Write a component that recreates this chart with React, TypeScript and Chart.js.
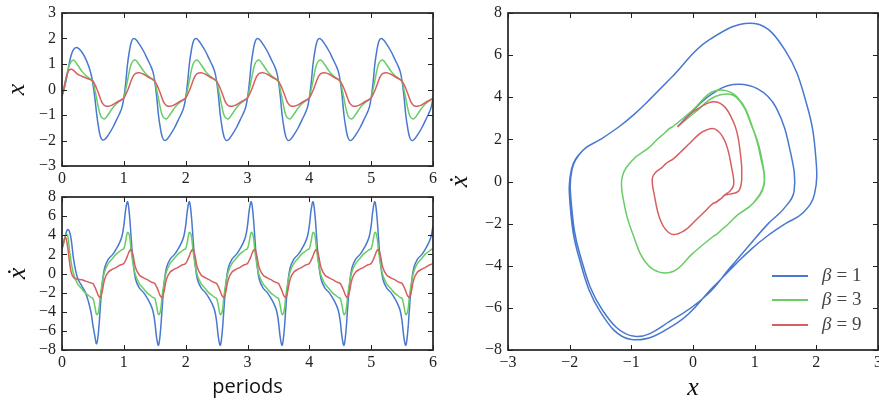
import React, { useEffect, useRef } from "react";
import { Chart, registerables } from "chart.js";

Chart.register(...registerables);

const WIDTH = 879;
const HEIGHT = 405;
const SERIF = '"Liberation Serif"';
const SANS = '"Open Sans"';

// Sampling instants inside one forcing period (denser where the motion is fast)
const phaseOffsets = [
  0, 0.03, 0.06, 0.09, 0.12, 0.15, 0.19, 0.25, 0.32, 0.38, 0.43, 0.47,
  0.5, 0.53, 0.56, 0.59, 0.62, 0.65, 0.69, 0.75, 0.82, 0.88, 0.93, 0.97,
];
const periodCount = 6;
const time: number[] = [];
for (let n = 0; n < periodCount; n++) for (const p of phaseOffsets) time.push(+(n + p).toFixed(2));
time.push(periodCount);

const betaValues = [1, 3, 9];
const lineColors = ["#4878CF", "#6ACC65", "#D65F5F"];

// displacement x, one row per period
const xBeta1 = [
  -0.25, -0.02, 0.28, 0.65, 1.05, 1.35, 1.58, 1.64, 1.47, 1.22, 0.92, 0.6, 0.22, -0.3, -0.95, -1.47, -1.83, -1.97, -1.96, -1.78, -1.5, -1.2, -0.95, -0.7,
  -0.33, 0.25, 1.0, 1.5, 1.85, 1.99, 1.97, 1.78, 1.5, 1.2, 0.95, 0.7, 0.33, -0.25, -1.0, -1.5, -1.85, -1.99, -1.97, -1.78, -1.5, -1.2, -0.95, -0.7,
  -0.33, 0.25, 1.0, 1.5, 1.85, 1.99, 1.97, 1.78, 1.5, 1.2, 0.95, 0.7, 0.33, -0.25, -1.0, -1.5, -1.85, -1.99, -1.97, -1.78, -1.5, -1.2, -0.95, -0.7,
  -0.33, 0.25, 1.0, 1.5, 1.85, 1.99, 1.97, 1.78, 1.5, 1.2, 0.95, 0.7, 0.33, -0.25, -1.0, -1.5, -1.85, -1.99, -1.97, -1.78, -1.5, -1.2, -0.95, -0.7,
  -0.33, 0.25, 1.0, 1.5, 1.85, 1.99, 1.97, 1.78, 1.5, 1.2, 0.95, 0.7, 0.33, -0.25, -1.0, -1.5, -1.85, -1.99, -1.97, -1.78, -1.5, -1.2, -0.95, -0.7,
  -0.33, 0.25, 1.0, 1.5, 1.85, 1.99, 1.97, 1.78, 1.5, 1.2, 0.95, 0.7, 0.33, -0.25, -1.0, -1.5, -1.85, -1.99, -1.97, -1.78, -1.5, -1.2, -0.95, -0.7,
  -0.33,
];
const xBeta3 = [
  -0.25, 0.04, 0.37, 0.7, 0.97, 1.1, 1.15, 0.97, 0.72, 0.56, 0.46, 0.39, 0.33, 0.0, -0.35, -0.72, -1.0, -1.12, -1.15, -0.97, -0.72, -0.56, -0.46, -0.39,
  -0.33, 0.0, 0.35, 0.72, 1.0, 1.12, 1.15, 0.97, 0.72, 0.56, 0.46, 0.39, 0.33, 0.0, -0.35, -0.72, -1.0, -1.12, -1.15, -0.97, -0.72, -0.56, -0.46, -0.39,
  -0.33, 0.0, 0.35, 0.72, 1.0, 1.12, 1.15, 0.97, 0.72, 0.56, 0.46, 0.39, 0.33, 0.0, -0.35, -0.72, -1.0, -1.12, -1.15, -0.97, -0.72, -0.56, -0.46, -0.39,
  -0.33, 0.0, 0.35, 0.72, 1.0, 1.12, 1.15, 0.97, 0.72, 0.56, 0.46, 0.39, 0.33, 0.0, -0.35, -0.72, -1.0, -1.12, -1.15, -0.97, -0.72, -0.56, -0.46, -0.39,
  -0.33, 0.0, 0.35, 0.72, 1.0, 1.12, 1.15, 0.97, 0.72, 0.56, 0.46, 0.39, 0.33, 0.0, -0.35, -0.72, -1.0, -1.12, -1.15, -0.97, -0.72, -0.56, -0.46, -0.39,
  -0.33, 0.0, 0.35, 0.72, 1.0, 1.12, 1.15, 0.97, 0.72, 0.56, 0.46, 0.39, 0.33, 0.0, -0.35, -0.72, -1.0, -1.12, -1.15, -0.97, -0.72, -0.56, -0.46, -0.39,
  -0.33,
];
const xBeta9 = [
  -0.25, 0.05, 0.4, 0.66, 0.77, 0.79, 0.74, 0.6, 0.52, 0.46, 0.41, 0.37, 0.32, 0.2, 0.04, -0.15, -0.35, -0.52, -0.63, -0.66, -0.6, -0.51, -0.44, -0.39,
  -0.33, -0.2, -0.04, 0.15, 0.35, 0.52, 0.63, 0.66, 0.6, 0.51, 0.44, 0.39, 0.32, 0.2, 0.04, -0.15, -0.35, -0.52, -0.63, -0.66, -0.6, -0.51, -0.44, -0.39,
  -0.33, -0.2, -0.04, 0.15, 0.35, 0.52, 0.63, 0.66, 0.6, 0.51, 0.44, 0.39, 0.32, 0.2, 0.04, -0.15, -0.35, -0.52, -0.63, -0.66, -0.6, -0.51, -0.44, -0.39,
  -0.33, -0.2, -0.04, 0.15, 0.35, 0.52, 0.63, 0.66, 0.6, 0.51, 0.44, 0.39, 0.32, 0.2, 0.04, -0.15, -0.35, -0.52, -0.63, -0.66, -0.6, -0.51, -0.44, -0.39,
  -0.33, -0.2, -0.04, 0.15, 0.35, 0.52, 0.63, 0.66, 0.6, 0.51, 0.44, 0.39, 0.32, 0.2, 0.04, -0.15, -0.35, -0.52, -0.63, -0.66, -0.6, -0.51, -0.44, -0.39,
  -0.33, -0.2, -0.04, 0.15, 0.35, 0.52, 0.63, 0.66, 0.6, 0.51, 0.44, 0.39, 0.32, 0.2, 0.04, -0.15, -0.35, -0.52, -0.63, -0.66, -0.6, -0.51, -0.44, -0.39,
  -0.33,
];

// velocity ẋ, one row per period
const vBeta1 = [
  2.6, 3.3, 4.1, 4.6, 4.4, 3.5, 1.4, -0.45, -1.3, -2.0, -3.0, -4.1, -5.4, -6.5, -7.35, -6.1, -3.5, -1.15, 0.6, 1.5, 2.0, 2.6, 3.2, 3.9,
  5.0, 6.7, 7.5, 6.2, 3.6, 1.2, -0.6, -1.5, -2.0, -2.6, -3.2, -3.9, -5.0, -6.7, -7.5, -6.2, -3.6, -1.2, 0.6, 1.5, 2.0, 2.6, 3.2, 3.9,
  5.0, 6.7, 7.5, 6.2, 3.6, 1.2, -0.6, -1.5, -2.0, -2.6, -3.2, -3.9, -5.0, -6.7, -7.5, -6.2, -3.6, -1.2, 0.6, 1.5, 2.0, 2.6, 3.2, 3.9,
  5.0, 6.7, 7.5, 6.2, 3.6, 1.2, -0.6, -1.5, -2.0, -2.6, -3.2, -3.9, -5.0, -6.7, -7.5, -6.2, -3.6, -1.2, 0.6, 1.5, 2.0, 2.6, 3.2, 3.9,
  5.0, 6.7, 7.5, 6.2, 3.6, 1.2, -0.6, -1.5, -2.0, -2.6, -3.2, -3.9, -5.0, -6.7, -7.5, -6.2, -3.6, -1.2, 0.6, 1.5, 2.0, 2.6, 3.2, 3.9,
  5.0, 6.7, 7.5, 6.2, 3.6, 1.2, -0.6, -1.5, -2.0, -2.6, -3.2, -3.9, -5.0, -6.7, -7.5, -6.2, -3.6, -1.2, 0.6, 1.5, 2.0, 2.6, 3.2, 3.9,
  5.0,
];
const vBeta3 = [
  2.6, 3.3, 4.05, 4.0, 2.5, 1.1, -0.1, -1.05, -1.6, -2.05, -2.3, -2.5, -2.6, -3.4, -4.3, -4.0, -2.3, -1.0, 0.2, 1.05, 1.6, 2.05, 2.3, 2.5,
  2.6, 3.4, 4.3, 4.0, 2.3, 1.0, -0.2, -1.05, -1.6, -2.05, -2.3, -2.5, -2.6, -3.4, -4.3, -4.0, -2.3, -1.0, 0.2, 1.05, 1.6, 2.05, 2.3, 2.5,
  2.6, 3.4, 4.3, 4.0, 2.3, 1.0, -0.2, -1.05, -1.6, -2.05, -2.3, -2.5, -2.6, -3.4, -4.3, -4.0, -2.3, -1.0, 0.2, 1.05, 1.6, 2.05, 2.3, 2.5,
  2.6, 3.4, 4.3, 4.0, 2.3, 1.0, -0.2, -1.05, -1.6, -2.05, -2.3, -2.5, -2.6, -3.4, -4.3, -4.0, -2.3, -1.0, 0.2, 1.05, 1.6, 2.05, 2.3, 2.5,
  2.6, 3.4, 4.3, 4.0, 2.3, 1.0, -0.2, -1.05, -1.6, -2.05, -2.3, -2.5, -2.6, -3.4, -4.3, -4.0, -2.3, -1.0, 0.2, 1.05, 1.6, 2.05, 2.3, 2.5,
  2.6, 3.4, 4.3, 4.0, 2.3, 1.0, -0.2, -1.05, -1.6, -2.05, -2.3, -2.5, -2.6, -3.4, -4.3, -4.0, -2.3, -1.0, 0.2, 1.05, 1.6, 2.05, 2.3, 2.5,
  2.6,
];
const vBeta9 = [
  2.6, 3.4, 3.76, 2.8, 1.3, 0.1, -0.45, -0.6, -0.65, -0.8, -0.9, -1.0, -1.05, -1.4, -1.85, -2.35, -2.5, -1.9, -0.6, 0.15, 0.45, 0.65, 0.85, 0.95,
  1.05, 1.4, 1.85, 2.35, 2.5, 1.9, 0.6, -0.15, -0.45, -0.65, -0.85, -0.95, -1.05, -1.4, -1.85, -2.35, -2.5, -1.9, -0.6, 0.15, 0.45, 0.65, 0.85, 0.95,
  1.05, 1.4, 1.85, 2.35, 2.5, 1.9, 0.6, -0.15, -0.45, -0.65, -0.85, -0.95, -1.05, -1.4, -1.85, -2.35, -2.5, -1.9, -0.6, 0.15, 0.45, 0.65, 0.85, 0.95,
  1.05, 1.4, 1.85, 2.35, 2.5, 1.9, 0.6, -0.15, -0.45, -0.65, -0.85, -0.95, -1.05, -1.4, -1.85, -2.35, -2.5, -1.9, -0.6, 0.15, 0.45, 0.65, 0.85, 0.95,
  1.05, 1.4, 1.85, 2.35, 2.5, 1.9, 0.6, -0.15, -0.45, -0.65, -0.85, -0.95, -1.05, -1.4, -1.85, -2.35, -2.5, -1.9, -0.6, 0.15, 0.45, 0.65, 0.85, 0.95,
  1.05, 1.4, 1.85, 2.35, 2.5, 1.9, 0.6, -0.15, -0.45, -0.65, -0.85, -0.95, -1.05, -1.4, -1.85, -2.35, -2.5, -1.9, -0.6, 0.15, 0.45, 0.65, 0.85, 0.95,
  1.05,
];

const displacement = [xBeta1, xBeta3, xBeta9];
const velocity = [vBeta1, vBeta3, vBeta9];

const xTicksTime = [0, 1, 2, 3, 4, 5, 6];
const yTicksX = [-3, -2, -1, 0, 1, 2, 3];
const yTicksV = [-8, -6, -4, -2, 0, 2, 4, 6, 8];
const xTicksPhase = [-3, -2, -1, 0, 1, 2, 3];

type Area = { left: number; top: number; right: number; bottom: number };
type Decor = {
  yTitle: string;
  yTitleOffset: number;
  xTitle?: string;
  xTitleFont?: string;
  xTitleBaseline?: number;
  legend?: boolean;
};

const fmt = (v: number | string) => {
  const n = Number(v);
  return n < 0 ? "\u2212" + Math.abs(n) : String(n);
};

function scaleOptions(ticks: number[], axis: "x" | "y", area: Area) {
  return {
    type: "linear" as const,
    min: ticks[0],
    max: ticks[ticks.length - 1],
    afterBuildTicks: (s: any) => {
      s.ticks = ticks.map((value) => ({ value }));
    },
    afterFit: (s: any) => {
      if (axis === "y") {
        s.width = area.left;
        s.paddingTop = 0;
        s.paddingBottom = 0;
      } else {
        s.height = HEIGHT - area.bottom;
        s.paddingLeft = 0;
        s.paddingRight = 0;
      }
    },
    grid: { display: false, drawTicks: false },
    border: { display: false },
    ticks: {
      autoSkip: false,
      maxRotation: 0,
      padding: axis === "y" ? 6 : 3,
      color: "#222",
      font: { family: SERIF, size: 16 },
      callback: (v: number | string) => fmt(v),
    },
  };
}

function decorPlugin(d: Decor) {
  return {
    id: "panelDecor",
    afterDraw(chart: any) {
      const { ctx, chartArea: a, scales } = chart;
      const xs = scales.x;
      const ys = scales.y;
      ctx.save();
      // inward tick marks on all four sides
      ctx.strokeStyle = "#222";
      ctx.lineWidth = 1;
      ctx.beginPath();
      for (const t of xs.ticks) {
        const p = Math.round(xs.getPixelForValue(t.value)) + 0.5;
        ctx.moveTo(p, a.bottom);
        ctx.lineTo(p, a.bottom - 5);
        ctx.moveTo(p, a.top);
        ctx.lineTo(p, a.top + 5);
      }
      for (const t of ys.ticks) {
        const p = Math.round(ys.getPixelForValue(t.value)) + 0.5;
        ctx.moveTo(a.left, p);
        ctx.lineTo(a.left + 5, p);
        ctx.moveTo(a.right, p);
        ctx.lineTo(a.right - 5, p);
      }
      ctx.stroke();
      ctx.lineWidth = 1.7;
      ctx.strokeRect(a.left, a.top, a.right - a.left, a.bottom - a.top);

      ctx.fillStyle = "#111";
      // y-axis title, rotated
      ctx.save();
      ctx.translate(a.left - d.yTitleOffset, (a.top + a.bottom) / 2);
      ctx.rotate(-Math.PI / 2);
      ctx.font = `italic 26px ${SERIF}`;
      ctx.textAlign = "center";
      ctx.textBaseline = "alphabetic";
      ctx.fillText(d.yTitle, 0, 6);
      ctx.restore();

      // x-axis title
      if (d.xTitle) {
        ctx.font = d.xTitleFont || `italic 26px ${SERIF}`;
        ctx.textAlign = "center";
        ctx.textBaseline = "alphabetic";
        ctx.fillText(d.xTitle, (a.left + a.right) / 2, a.bottom + (d.xTitleBaseline || 44));
      }

      // legend in the lower right corner
      if (d.legend) {
        const rows = [a.bottom - 74, a.bottom - 50, a.bottom - 25];
        chart.data.datasets.forEach((ds: any) => {
          const y = rows[ds.legendRow];
          ctx.strokeStyle = ds.borderColor;
          ctx.lineWidth = 2;
          ctx.beginPath();
          ctx.moveTo(a.right - 106, y);
          ctx.lineTo(a.right - 70, y);
          ctx.stroke();
          ctx.fillStyle = "#444";
          ctx.textAlign = "left";
          ctx.textBaseline = "middle";
          const x0 = a.right - 56;
          ctx.font = `italic 19px ${SERIF}`;
          ctx.fillText("\u03b2", x0, y);
          const bw = ctx.measureText("\u03b2").width;
          ctx.font = `19px ${SERIF}`;
          ctx.fillText("= " + betaValues[ds.legendRow], x0 + bw + 5, y);
        });
      }
      ctx.restore();
    },
  };
}

function buildChart(
  canvas: HTMLCanvasElement,
  area: Area,
  xTicks: number[],
  yTicks: number[],
  xsOf: (k: number) => number[],
  ysOf: (k: number) => number[],
  tension: number,
  decor: Decor
) {
  const datasets = [2, 1, 0].map((k) => ({
    label: "\u03b2 = " + betaValues[k],
    legendRow: k,
    data: xsOf(k).map((xv, i) => ({ x: xv, y: ysOf(k)[i] })),
    borderColor: lineColors[k],
    backgroundColor: lineColors[k],
    borderWidth: 1.5,
    pointRadius: 0,
    fill: false,
    tension,
  }));
  return new Chart(canvas, {
    type: "line",
    data: { datasets },
    options: {
      responsive: false,
      maintainAspectRatio: false,
      devicePixelRatio: 1,
      animation: false,
      events: [],
      layout: {
        autoPadding: false,
        padding: { left: 0, top: area.top, right: WIDTH - area.right, bottom: 0 },
      },
      plugins: { legend: { display: false }, tooltip: { enabled: false } },
      scales: {
        x: scaleOptions(xTicks, "x", area),
        y: scaleOptions(yTicks, "y", area),
      },
    } as any,
    plugins: [decorPlugin(decor)],
  });
}

export default function App() {
  const topRef = useRef<HTMLCanvasElement>(null);
  const bottomRef = useRef<HTMLCanvasElement>(null);
  const phaseRef = useRef<HTMLCanvasElement>(null);

  useEffect(() => {
    const charts = [
      buildChart(
        topRef.current!,
        { left: 62, top: 13, right: 433, bottom: 166 },
        xTicksTime,
        yTicksX,
        () => time,
        (k) => displacement[k],
        0.4,
        { yTitle: "x", yTitleOffset: 44 }
      ),
      buildChart(
        bottomRef.current!,
        { left: 62, top: 197, right: 433, bottom: 350 },
        xTicksTime,
        yTicksV,
        () => time,
        (k) => velocity[k],
        0.4,
        { yTitle: "\u1e8b", yTitleOffset: 43, xTitle: "periods", xTitleFont: `20px ${SANS}`, xTitleBaseline: 43 }
      ),
      buildChart(
        phaseRef.current!,
        { left: 508, top: 13, right: 878, bottom: 350 },
        xTicksPhase,
        yTicksV,
        (k) => displacement[k],
        (k) => velocity[k],
        0.4,
        { yTitle: "\u1e8b", yTitleOffset: 47, xTitle: "x", xTitleBaseline: 45, legend: true }
      ),
    ];
    return () => charts.forEach((c) => c.destroy());
  }, []);

  const canvasStyle: React.CSSProperties = { position: "absolute", left: 0, top: 0 };
  return (
    <div style={{ position: "fixed", left: 0, top: 0, width: WIDTH, height: HEIGHT, background: "#fff" }}>
      <canvas ref={topRef} width={WIDTH} height={HEIGHT} style={canvasStyle} />
      <canvas ref={bottomRef} width={WIDTH} height={HEIGHT} style={canvasStyle} />
      <canvas ref={phaseRef} width={WIDTH} height={HEIGHT} style={canvasStyle} />
    </div>
  );
}
